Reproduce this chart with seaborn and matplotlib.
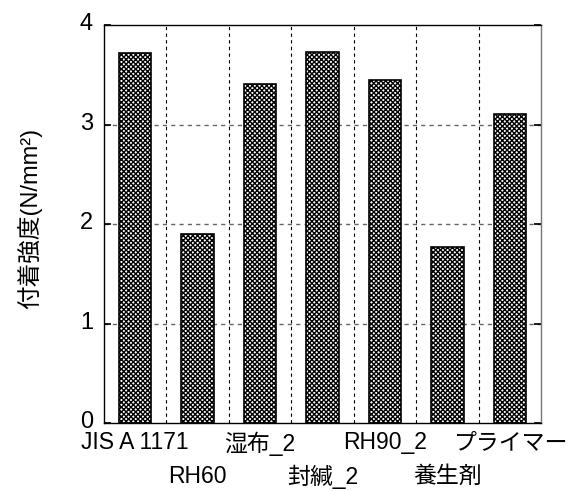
import matplotlib
matplotlib.use("Agg")
import matplotlib.pyplot as plt
import matplotlib.transforms as mtransforms
import seaborn as sns
import pandas as pd
import numpy as np

categories = ["JIS A 1171", "RH60", "湿布_2", "封緘_2", "RH90_2", "養生剤", "プライマー"]
strength = [3.72, 1.90, 3.41, 3.73, 3.45, 1.77, 3.11]
y_ticks = [0, 1, 2, 3, 4]

sns.set_theme(style="white")
plt.rcParams["font.family"] = ["Liberation Sans", "Noto Sans CJK JP", "DejaVu Sans"]
plt.rcParams["hatch.linewidth"] = 1.0

df = pd.DataFrame({"cond": categories, "val": strength})

fig = plt.figure(figsize=(5.8, 4.91), dpi=100)
ax = fig.add_axes([0.1793, 0.1385, 0.7535, 0.8105])

sns.barplot(data=df, x="cond", y="val", ax=ax, color="white", width=0.52,
            edgecolor="black", linewidth=1.2, saturation=1, zorder=3)
for p in ax.patches:
    p.set_hatch("xxxxxxx")
    p.set_facecolor("white")
    p.set_edgecolor("black")

n = len(categories)
ax.set_xlim(-0.5, n - 0.5)
ax.set_ylim(0, 4)
ax.set_yticks(y_ticks)
ax.set_yticklabels([str(t) for t in y_ticks])
ax.tick_params(axis="y", labelsize=17, direction="in", length=5, pad=8,
               right=True, left=True, colors="black")
# lift the value labels slightly above their grid lines
lift = mtransforms.ScaledTranslation(0, 2.5 / 72, fig.dpi_scale_trans)
for tick in ax.yaxis.get_major_ticks():
    tick.label1.set_transform(tick.label1.get_transform() + lift)

# category labels, every second one dropped to a lower row
ax.set_xticks(range(n))
ax.set_xticklabels(categories)
ax.tick_params(axis="x", labelsize=16.5, length=0, pad=6, colors="black")
drop = mtransforms.ScaledTranslation(0, -24 / 72, fig.dpi_scale_trans)
for i, tick in enumerate(ax.xaxis.get_major_ticks()):
    if i % 2 == 1:
        tick.label1.set_transform(tick.label1.get_transform() + drop)

# grid: dashed verticals between categories, dashed horizontals at ticks
for b in np.arange(0.5, n - 0.5, 1.0):
    ax.axvline(b, color="black", linestyle=(0, (3, 3)), linewidth=0.8, zorder=0)
for t in y_ticks[1:-1]:
    ax.axhline(t, color="#666666", linestyle=(0, (3, 3)), linewidth=1.0, zorder=0)

ax.set_xlabel("")
ax.set_ylabel("付着強度(N/mm²)", fontsize=17, color="black")
ax.yaxis.set_label_coords(-0.142, 0.515)

for s in ax.spines.values():
    s.set_color("black")
    s.set_linewidth(1.0)
ax.spines["right"].set_color("#777777")

fig.savefig("out.png", dpi=100, facecolor="white")
